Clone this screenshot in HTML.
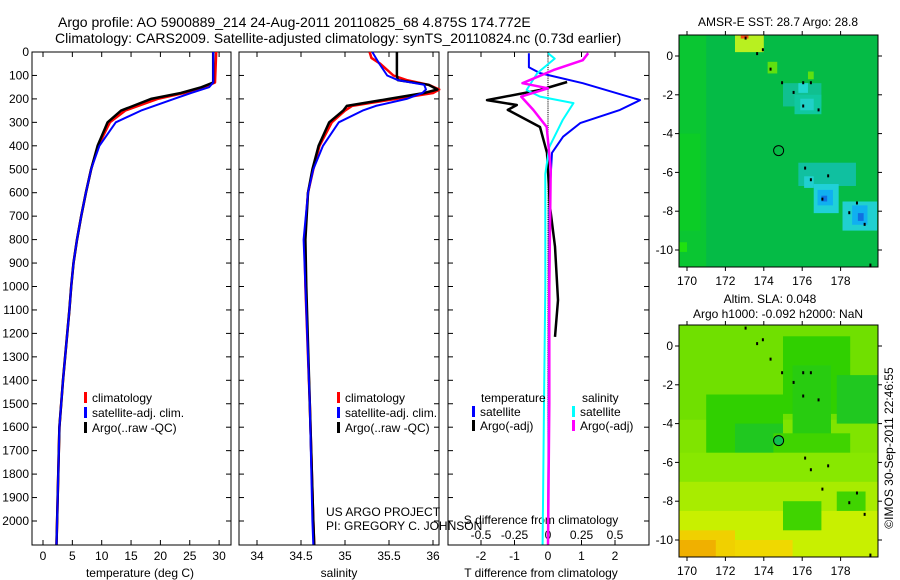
<!DOCTYPE html>
<html><head><meta charset="utf-8"><style>
body{margin:0;background:#fff;}
svg{display:block;font-family:"Liberation Sans",sans-serif;}
</style></head><body>
<svg id="chart" width="900" height="580" viewBox="0 0 900 580" xmlns="http://www.w3.org/2000/svg">
<rect width="900" height="580" fill="#fff"/>
<text x="58" y="27" font-size="14">Argo profile: AO 5900889_214 24-Aug-2011 20110825_68 4.875S 174.772E</text>
<text x="55" y="43" font-size="14">Climatology: CARS2009. Satellite-adjusted climatology: synTS_20110824.nc (0.73d earlier)</text>
<g id="g"></g>
</svg>
<script>
// ---- data ----
var depthTicks=[0,100,200,300,400,500,600,700,800,900,1000,1100,1200,1300,1400,1500,1600,1700,1800,1900,2000];
var tTicks=[0,5,10,15,20,25,30];
var sTicks=[34,34.5,35,35.5,36];
var dTTicks=[-2,-1,0,1,2];
var dSTicks=[-0.5,-0.25,0,0.25,0.5];
var dSTickLabels=["-0.5","-0.25","0","0.25","0.5"];
var latTicks=[0,-2,-4,-6,-8,-10];
var lonTicks=[170,172,174,176,178];

var tDepth=[0,130,150,175,200,250,300,400,500,600,700,800,900,1000,1100,1400,1600,2000,2100];
var tArgo=[29,29,27,23.5,18.4,13.3,11,9.3,8.2,7.3,6.5,5.8,5.2,4.8,4.5,3.4,2.8,2.4,2.3];
var tClim=[29.5,29.3,27.5,24,19.5,14,11.4,9.4,8.2,7.3,6.5,5.8,5.2,4.8,4.5,3.4,2.8,2.4,2.3];
var tSat=[29,29,28.3,25.2,22.3,16.7,12.4,9.6,8.2,7.3,6.5,5.8,5.2,4.8,4.5,3.4,2.8,2.4,2.3];

var sDepth=[0,25,50,100,120,140,160,175,200,230,250,300,400,500,600,800,1000,1500,2000,2100];
var sArgo=[35.59,35.59,35.59,35.59,35.6,35.95,36.05,35.9,35.5,35.02,34.98,34.82,34.7,34.63,34.58,34.55,34.56,34.6,34.64,34.65];
var sClim=[35.28,35.3,35.4,35.55,35.7,35.95,36.07,36.0,35.58,35.08,35.0,34.85,34.71,34.64,34.58,34.54,34.55,34.6,34.64,34.65];
var sSat=[35.31,35.35,35.39,35.48,35.6,35.9,35.92,35.88,35.7,35.35,35.2,34.93,34.75,34.64,34.58,34.53,34.55,34.6,34.63,34.64];

var dTSatDepth=[5,65,90,133,205,247,303,361,430,600,1000,1500,2100];
var dTSat=[-0.57,-0.57,-0.24,1.04,2.75,2.15,0.96,0.45,0.12,0.05,0.03,0.02,0.0];
var dTArgoDepth=[128,162,205,226,247,320,430,660,830,1058,1215];
var dTArgo=[0.57,-0.24,-1.82,-0.93,-1.2,-0.24,-0.03,0.06,0.21,0.3,0.21];
var dSSatDepth=[5,28,90,162,190,218,290,405,520,1000,1500,2100];
var dSSat=[0,0.05,-0.08,-0.16,-0.06,0.19,0.11,0.01,-0.02,-0.02,-0.03,-0.04];
var dSArgoDepth=[5,35,77,133,155,190,247,320,500,1000,1500,2100];
var dSArgo=[0.3,0.26,0.04,-0.19,0,-0.2,-0.11,-0.01,0.02,0.01,0.01,0.0];

var floatLon=174.772, floatLat=-4.875;

// ---- helpers ----
var NS="http://www.w3.org/2000/svg";
var G=document.getElementById('g');
function mk(tag,attrs,parent){var e=document.createElementNS(NS,tag);for(var k in attrs)e.setAttribute(k,attrs[k]);(parent||G).appendChild(e);return e;}
function yD(d){return 52+d*0.2345;}
var TOP=52,BOT=545;
function xT(v){return 43+v*5.87;}
function xS(v){return 257+(v-34)*88;}
function xDT(v){return 548+v*33.5;}
function xDS(v){return 548+v*134;}

function frame(x0,x1,name){
  var r=mk('rect',{x:x0,y:TOP,width:x1-x0,height:BOT-TOP,fill:'none',stroke:'#000','stroke-width':1});
  
  
  depthTicks.forEach(function(d){
    mk('line',{x1:x0,x2:x0+5,y1:yD(d),y2:yD(d),stroke:'#000'});
    mk('line',{x1:x1,x2:x1-5,y1:yD(d),y2:yD(d),stroke:'#000'});
  });
}
function xticks(vals,fx,labels,ly){
  vals.forEach(function(v,i){
    var x=fx(v);
    mk('line',{x1:x,x2:x,y1:BOT,y2:BOT-5,stroke:'#000'});
    mk('line',{x1:x,x2:x,y1:TOP,y2:TOP+5,stroke:'#000'});
    var t=mk('text',{x:x,y:ly,'font-size':12,'text-anchor':'middle'});t.textContent=labels?labels[i]:String(v);
    
    
  });
}
function line(depths,vals,fx,color,w,name){
  var pts=depths.map(function(d,i){return fx(vals[i]).toFixed(1)+','+yD(d).toFixed(1);}).join(' ');
  var p=mk('polyline',{points:pts,fill:'none',stroke:color,'stroke-width':w,'stroke-linejoin':'round'});
  
  
}
function txt(x,y,s,size,name,anchor){
  var t=mk('text',{x:x,y:y,'font-size':size,'text-anchor':anchor||'start'});t.textContent=s;
  
  
  return t;
}
function legend(x,y,color,label){
  var r=mk('rect',{x:x,y:y-10,width:3,height:11,fill:color});
  
  
  txt(x+8,y,label,12,'legend-entry');
}

// ---- panel 1: temperature ----
frame(32,231,'temperature-axes');
depthTicks.forEach(function(d){txt(29,yD(d)+4,String(d),12,'y-tick-label','end');});
xticks(tTicks,xT,null,560);
txt(140,577,'temperature (deg C)',12,'x-axis-title','middle');
line(tDepth,tClim,xT,'#f00',2.5,'temp-climatology-line');
line(tDepth,tArgo,xT,'#000',2.5,'temp-argo-line');
line(tDepth,tSat,xT,'#00f',2,'temp-satellite-line');
legend(84,402,'#f00','climatology');
legend(84,417,'#00f','satellite-adj. clim.');
legend(84,432,'#000','Argo(..raw -QC)');

// ---- panel 2: salinity ----
frame(239,439,'salinity-axes');
xticks(sTicks,xS,null,560);
txt(339,577,'salinity',12,'x-axis-title','middle');
line(sDepth,sClim,xS,'#f00',2.5,'sal-climatology-line');
line(sDepth,sArgo,xS,'#000',2.5,'sal-argo-line');
line(sDepth,sSat,xS,'#00f',2,'sal-satellite-line');
legend(337,402,'#f00','climatology');
legend(337,417,'#00f','satellite-adj. clim.');
legend(337,432,'#000','Argo(..raw -QC)');
txt(326,516,'US ARGO PROJECT',12,'credit-project');
txt(326,530,'PI: GREGORY C. JOHNSON',12,'credit-pi');

// ---- panel 3: differences ----
frame(448,649,'difference-axes');
for(var d=0;d<2100;d+=8){mk('line',{x1:548,x2:548,y1:yD(d),y2:yD(d)+1,stroke:'#000','stroke-width':1});}
xticks(dTTicks,xDT,null,560);
dSTicks.forEach(function(v,i){txt(xDS(v),539,dSTickLabels[i],12,'s-tick-label','middle');});
txt(541,524,'S difference from climatology',12,'s-axis-title','middle');
txt(541,577,'T difference from climatology',12,'x-axis-title','middle');
line(dTSatDepth,dTSat,xDT,'#00f',2,'dT-satellite-line');
line(dTArgoDepth,dTArgo,xDT,'#000',2.5,'dT-argo-line');
line(dSSatDepth,dSSat,xDS,'#0ff',2,'dS-satellite-line');
line(dSArgoDepth,dSArgo,xDS,'#f0f',2.5,'dS-argo-line');
txt(481,402,'temperature',12,'legend-title-temperature');
txt(582,402,'salinity',12,'legend-title-salinity');
legend(472,416,'#00f','satellite');
legend(472,430,'#000','Argo(-adj)');
legend(572,416,'#0ff','satellite');
legend(572,430,'#f0f','Argo(-adj)');

// ---- maps ----
function mapAxes(y0,name,lat0y,patches,base,circleFill){
  var x0=679,x1=878,y1=y0+232;
  var fx=function(lon){return 687+(lon-170)*19.2;};
  var fy=function(lat){return lat0y-lat*19.4;};
  var cp=mk('clipPath',{id:'cp'+y0});mk('rect',{x:x0,y:y0,width:x1-x0,height:y1-y0},cp);
  var g=mk('g',{'clip-path':'url(#cp'+y0+')'});
  
  
  mk('rect',{x:x0,y:y0,width:x1-x0,height:y1-y0,fill:base},g);
  patches.forEach(function(p){mk('rect',{x:fx(p[0]),y:fy(p[1]),width:p[2]*19.2,height:p[3]*19.4,fill:p[4]},g);});
  [[173,1],[173.6,0.2],[173.9,0.4],[174.3,-0.6],[174.9,-1.3],[175.5,-1.8],[176,-1.3],[176.4,-1.3],[176,-2.5],[176.8,-2.7],[176.1,-5.7],[176.4,-6.3],[177.3,-6.1],[177,-7.3],[178.4,-8],[178.8,-7.5],[179.2,-8.6],[179.5,-10.7]].forEach(function(q){
    mk('rect',{x:fx(q[0]),y:fy(q[1]),width:2,height:3,fill:'#000'},g);
  });
  var f=mk('rect',{x:x0,y:y0,width:x1-x0,height:y1-y0,fill:'none',stroke:'#000'});
  
  
  latTicks.forEach(function(l){var y=fy(l);mk('line',{x1:x0,x2:x0-4,y1:y,y2:y,stroke:'#000'});mk('line',{x1:x1,x2:x1+4,y1:y,y2:y,stroke:'#000'});txt(673,y+4,String(l),12,'lat-tick-label','end');});
  lonTicks.forEach(function(l){var x=fx(l);mk('line',{x1:x,x2:x,y1:y0,y2:y0-4,stroke:'#000'});mk('line',{x1:x,x2:x,y1:y1,y2:y1+4,stroke:'#000'});txt(x,y1+18,String(l),12,'lon-tick-label','middle');});
  var c=mk('circle',{cx:fx(floatLon),cy:fy(floatLat),r:5,fill:circleFill,stroke:'#000'});
  
  
}
mapAxes(35,'sst-map',56,[
 [169.5,1.2,1.5,12.5,'#0ac632'],[169.5,-4,1.2,5,'#0ccc26'],
 [172.5,1.2,1.5,1,'#b8f020'],[172.8,1.2,0.4,0.3,'#f05010'],[174.2,-0.3,0.5,0.6,'#60e010'],
 [175,-1.4,2,1.2,'#10c090'],[175.8,-1.4,0.5,0.5,'#20d8d0'],[176.3,-0.8,0.3,0.4,'#60e010'],
 [175.6,-2,1.4,1,'#10c8a0'],[175.9,-2.2,0.7,0.6,'#20d0c8'],
 [175.8,-5.5,3,1.2,'#10c0a0'],[176.1,-6.2,0.5,0.6,'#20d0d0'],
 [176.6,-6.6,1.3,1.5,'#20d0d8'],[176.8,-6.9,0.8,0.8,'#10b0f0'],[177,-7.2,0.3,0.3,'#1070e0'],
 [178.1,-7.5,1.8,1.5,'#20d0d0'],[178.6,-7.7,0.8,1,'#10b0f0'],[178.9,-8.1,0.3,0.4,'#1070e0'],
 [169.5,-9.6,0.5,0.5,'#20e010']
],'#05bb46','none');
mapAxes(325,'sla-map',346,[
 [169.5,1.2,12,5,'#70e000'],
 [171,-2.5,4,4.5,'#30d000'],[172.5,-4,2.5,3,'#20c820'],[175,0.5,3.5,4,'#30d000'],[175.5,-1,2,6,'#28cc10'],[177.8,-1.5,2.5,2.5,'#20c820'],[174.5,-4.5,4,2.5,'#40d400'],
 [169.5,-5.5,11,2,'#88e800'],[169.5,-7,11,2,'#a8ec00'],[169.5,-8.5,11,3,'#c8f000'],[175,-8,2,1.5,'#40d400'],[177.8,-7.5,1.5,1,'#40d400'],
 [169.5,-9.5,3,2,'#f0d000'],[172.5,-10,3,1.5,'#f0d800'],[169.5,-10,2,1,'#f0b000']
],'#80e400','#10c050');
txt(778,26,'AMSR-E SST: 28.7  Argo: 28.8',12,'sst-map-title','middle');
txt(770,303,'Altim. SLA: 0.048',12,'sla-map-title','middle');
txt(778,318,'Argo h1000: -0.092  h2000: NaN',12,'sla-map-subtitle','middle');
var cr=txt(0,0,'©IMOS 30-Sep-2011 22:46:55',12,'timestamp-credit','middle');
cr.setAttribute('transform','translate(893,448) rotate(-90)');
</script>
</body></html>
